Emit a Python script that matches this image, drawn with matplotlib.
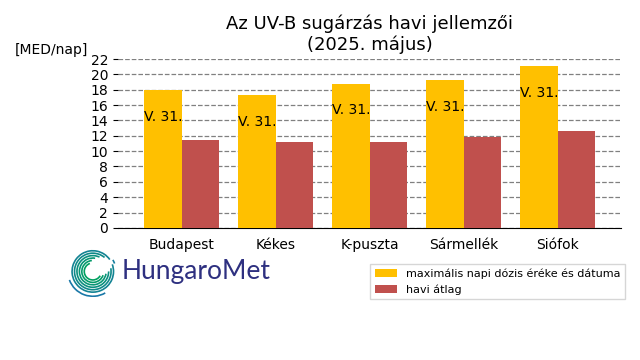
import matplotlib.pyplot as plt
import numpy as np
from matplotlib.patches import Arc
from matplotlib.colors import LinearSegmentedColormap

# data
stations = ["Budapest", "Kékes", "K-puszta", "Sármellék", "Siófok"]
max_dose = [18.0, 17.3, 18.8, 19.3, 21.1]
avg_dose = [11.5, 11.2, 11.2, 11.9, 12.6]
dates = ["V. 31.", "V. 31.", "V. 31.", "V. 31.", "V. 31."]

fig = plt.figure(figsize=(6.4, 3.6), dpi=100)
ax = fig.add_axes([0.184, 0.367, 0.786, 0.469])

x = np.arange(len(stations))
w = 0.4
ax.bar(x - w / 2, max_dose, w, color="#ffc000", label="maximális napi dózis éréke és dátuma", zorder=3)
ax.bar(x + w / 2, avg_dose, w, color="#c0504d", label="havi átlag", zorder=3)

for xi, v, d in zip(x, max_dose, dates):
    ax.text(xi - w / 2, v - 3.5, d, ha="center", va="center", fontsize=10, zorder=4)

ax.set_ylim(0, 22)
ax.set_xlim(-0.68, 4.67)
ax.set_yticks(range(0, 23, 2))
ax.set_xticks(x)
ax.set_xticklabels(stations, fontsize=10)
ax.tick_params(axis="y", labelsize=10)
ax.tick_params(axis="x", length=0, pad=7)
ax.yaxis.grid(True, linestyle="--", color="#808080", linewidth=0.9, zorder=0)
for s in ["top", "right", "left"]:
    ax.spines[s].set_visible(False)

fig.text(0.578, 0.85, "Az UV-B sugárzás havi jellemzői\n(2025. május)", ha="center", va="bottom",
         fontsize=13, linespacing=1.2)
fig.text(0.023, 0.86, "[MED/nap]", fontsize=10, va="center")

fig.legend(loc="upper right", bbox_to_anchor=(0.985, 0.282), fontsize=8, frameon=True,
           fancybox=False, edgecolor="#cccccc", handlelength=2)

# logo
lax = fig.add_axes([0.105, 0.175, 0.08, 0.142])
lax.set_xlim(-1.05, 1.05)
lax.set_ylim(-1.05, 1.05)
lax.axis("off")
radii = [0.35, 0.45, 0.55, 0.65, 0.75, 0.85, 0.95, 1.02]
starts = [110, 95, 80, 65, 50, 35, 20, 200]
ends = [330, 340, 350, 360, 370, 380, 390, 300]
logo_cmap = LinearSegmentedColormap.from_list("logo", ["#00a060", "#1a78a8"])
cols = logo_cmap(np.linspace(0, 1, len(radii)))
for r, a0, a1, c in zip(radii, starts, ends, cols):
    lax.add_patch(Arc((0, 0), 2 * r, 2 * r, theta1=a0, theta2=a1, color=c, lw=1.2))
fig.text(0.19, 0.247, "HungaroMet", fontsize=19, color="#2e3080", family="Lato",
         va="center")

fig.savefig("out.png", dpi=100)
